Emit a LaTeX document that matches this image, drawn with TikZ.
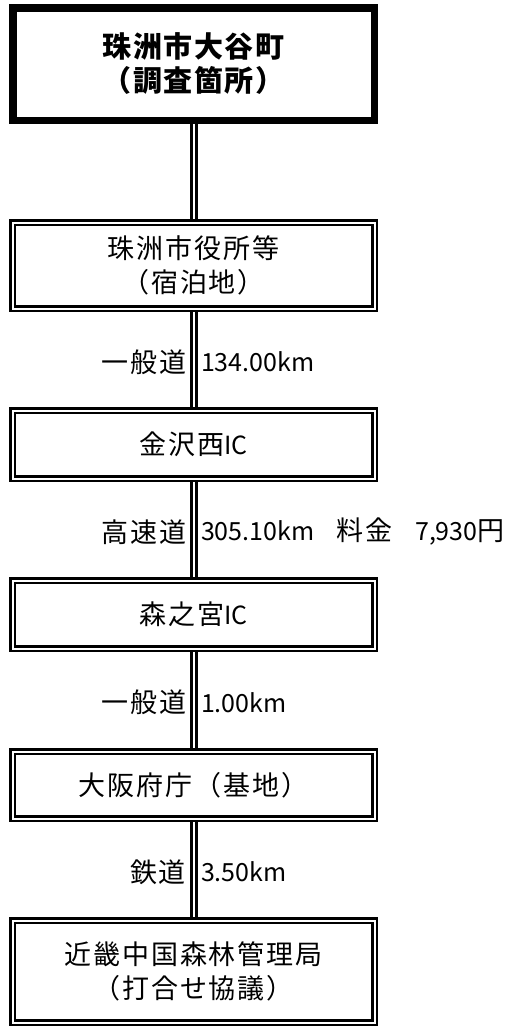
\documentclass[tikz,border=0pt]{standalone}
\usepackage{fontspec}
\setmainfont{Noto Sans CJK JP}
\newfontfamily\jp[LetterSpace=7]{Noto Sans CJK JP}
\newfontfamily\jpb[LetterSpace=5]{Noto Sans CJK JP}
\newcommand\lat[1]{{\rmfamily\fontsize{25}{34}\selectfont #1}}
\usetikzlibrary{backgrounds}
\tikzset{
  topbox/.style={draw, line width=7.5pt, minimum width=361.5pt, minimum height=112.5pt,
    inner sep=0pt, outer sep=0pt, align=center,
    font=\jpb\bfseries\fontsize{29}{34}\selectfont},
  dbox/.style={draw, double, line width=2.5pt, double distance=2pt, minimum width=362pt,
    inner sep=0pt, outer sep=0pt, align=center,
    font=\jp\fontsize{27}{34}\selectfont},
  link/.style={draw, double, line width=3pt, double distance=2pt},
  lbl/.style={inner sep=0pt, font=\jp\fontsize{27}{30}\selectfont, yshift=-2.5pt},
}
\begin{document}
\begin{tikzpicture}[x=1pt,y=-1pt]
\useasboundingbox (0,0) rectangle (506,1028);
\node[topbox] (b1) at (193.5,64) {珠洲市大谷町\\（調査箇所）};
\node[dbox, minimum height=86pt] (b2) at (193.5,265.5) {珠洲市役所等\\（宿泊地）};
\node[dbox, minimum height=68pt] (b3) at (193.5,444.5) {金沢西\lat{IC}};
\node[dbox, minimum height=68pt] (b4) at (193.5,614.5) {森之宮\lat{IC}};
\node[dbox, minimum height=67pt] (b5) at (193.5,785) {大阪府庁（基地）};
\node[dbox, minimum height=102pt] (b6) at (193.5,971.5) {近畿中国森林管理局\\（打合せ協議）};
\begin{pgfonlayer}{background}
\draw[link] (b1.south) -- (b2.north);
\draw[link] (b2.south) -- (b3.north)
  node[lbl, midway, anchor=east, xshift=-6pt] {一般道}
  node[lbl, midway, anchor=west, xshift=6pt] {\lat{134.00km}};
\draw[link] (b3.south) -- (b4.north)
  node[lbl, midway, anchor=east, xshift=-6pt] {高速道}
  node[lbl, midway, anchor=west, xshift=6pt] {\lat{305.10km}\hspace{22pt}料金\hspace{23pt}\lat{7,930}円};
\draw[link] (b4.south) -- (b5.north)
  node[lbl, midway, anchor=east, xshift=-6pt] {一般道}
  node[lbl, midway, anchor=west, xshift=6pt] {\lat{1.00km}};
\draw[link] (b5.south) -- (b6.north)
  node[lbl, midway, anchor=east, xshift=-6pt] {鉄道}
  node[lbl, midway, anchor=west, xshift=6pt] {\lat{3.50km}};
\end{pgfonlayer}
\end{tikzpicture}
\end{document}
